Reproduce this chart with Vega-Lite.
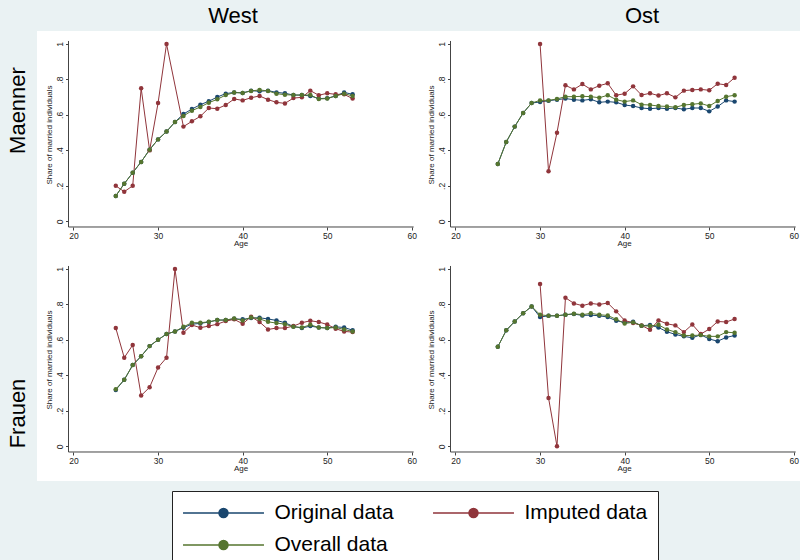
{
  "$schema": "https://vega.github.io/schema/vega-lite/v6.json",
  "background": "#EAF2F3",
  "padding": {"left": 6, "top": 5, "right": 0, "bottom": 0},
  "datasets": {
    "d": [
      {"r":"West","s":"Maenner","g":"Original data","a":25,"v":0.143},{"r":"West","s":"Maenner","g":"Original data","a":26,"v":0.212},{"r":"West","s":"Maenner","g":"Original data","a":27,"v":0.274},{"r":"West","s":"Maenner","g":"Original data","a":28,"v":0.335},{"r":"West","s":"Maenner","g":"Original data","a":29,"v":0.404},{"r":"West","s":"Maenner","g":"Original data","a":30,"v":0.462},{"r":"West","s":"Maenner","g":"Original data","a":31,"v":0.506},{"r":"West","s":"Maenner","g":"Original data","a":32,"v":0.560},{"r":"West","s":"Maenner","g":"Original data","a":33,"v":0.605},{"r":"West","s":"Maenner","g":"Original data","a":34,"v":0.633},{"r":"West","s":"Maenner","g":"Original data","a":35,"v":0.658},{"r":"West","s":"Maenner","g":"Original data","a":36,"v":0.677},{"r":"West","s":"Maenner","g":"Original data","a":37,"v":0.701},{"r":"West","s":"Maenner","g":"Original data","a":38,"v":0.720},{"r":"West","s":"Maenner","g":"Original data","a":39,"v":0.727},{"r":"West","s":"Maenner","g":"Original data","a":40,"v":0.724},{"r":"West","s":"Maenner","g":"Original data","a":41,"v":0.737},{"r":"West","s":"Maenner","g":"Original data","a":42,"v":0.733},{"r":"West","s":"Maenner","g":"Original data","a":43,"v":0.737},{"r":"West","s":"Maenner","g":"Original data","a":44,"v":0.727},{"r":"West","s":"Maenner","g":"Original data","a":45,"v":0.722},{"r":"West","s":"Maenner","g":"Original data","a":46,"v":0.712},{"r":"West","s":"Maenner","g":"Original data","a":47,"v":0.712},{"r":"West","s":"Maenner","g":"Original data","a":48,"v":0.707},{"r":"West","s":"Maenner","g":"Original data","a":49,"v":0.692},{"r":"West","s":"Maenner","g":"Original data","a":50,"v":0.694},{"r":"West","s":"Maenner","g":"Original data","a":51,"v":0.707},{"r":"West","s":"Maenner","g":"Original data","a":52,"v":0.727},{"r":"West","s":"Maenner","g":"Original data","a":53,"v":0.716},
      {"r":"Ost","s":"Maenner","g":"Original data","a":25,"v":0.323},{"r":"Ost","s":"Maenner","g":"Original data","a":26,"v":0.447},{"r":"Ost","s":"Maenner","g":"Original data","a":27,"v":0.534},{"r":"Ost","s":"Maenner","g":"Original data","a":28,"v":0.611},{"r":"Ost","s":"Maenner","g":"Original data","a":29,"v":0.667},{"r":"Ost","s":"Maenner","g":"Original data","a":30,"v":0.673},{"r":"Ost","s":"Maenner","g":"Original data","a":31,"v":0.680},{"r":"Ost","s":"Maenner","g":"Original data","a":32,"v":0.686},{"r":"Ost","s":"Maenner","g":"Original data","a":33,"v":0.692},{"r":"Ost","s":"Maenner","g":"Original data","a":34,"v":0.686},{"r":"Ost","s":"Maenner","g":"Original data","a":35,"v":0.682},{"r":"Ost","s":"Maenner","g":"Original data","a":36,"v":0.688},{"r":"Ost","s":"Maenner","g":"Original data","a":37,"v":0.671},{"r":"Ost","s":"Maenner","g":"Original data","a":38,"v":0.675},{"r":"Ost","s":"Maenner","g":"Original data","a":39,"v":0.671},{"r":"Ost","s":"Maenner","g":"Original data","a":40,"v":0.656},{"r":"Ost","s":"Maenner","g":"Original data","a":41,"v":0.650},{"r":"Ost","s":"Maenner","g":"Original data","a":42,"v":0.639},{"r":"Ost","s":"Maenner","g":"Original data","a":43,"v":0.635},{"r":"Ost","s":"Maenner","g":"Original data","a":44,"v":0.639},{"r":"Ost","s":"Maenner","g":"Original data","a":45,"v":0.635},{"r":"Ost","s":"Maenner","g":"Original data","a":46,"v":0.639},{"r":"Ost","s":"Maenner","g":"Original data","a":47,"v":0.632},{"r":"Ost","s":"Maenner","g":"Original data","a":48,"v":0.639},{"r":"Ost","s":"Maenner","g":"Original data","a":49,"v":0.639},{"r":"Ost","s":"Maenner","g":"Original data","a":50,"v":0.620},{"r":"Ost","s":"Maenner","g":"Original data","a":51,"v":0.647},{"r":"Ost","s":"Maenner","g":"Original data","a":52,"v":0.682},{"r":"Ost","s":"Maenner","g":"Original data","a":53,"v":0.675},
      {"r":"West","s":"Frauen","g":"Original data","a":25,"v":0.318},{"r":"West","s":"Frauen","g":"Original data","a":26,"v":0.375},{"r":"West","s":"Frauen","g":"Original data","a":27,"v":0.458},{"r":"West","s":"Frauen","g":"Original data","a":28,"v":0.508},{"r":"West","s":"Frauen","g":"Original data","a":29,"v":0.565},{"r":"West","s":"Frauen","g":"Original data","a":30,"v":0.601},{"r":"West","s":"Frauen","g":"Original data","a":31,"v":0.633},{"r":"West","s":"Frauen","g":"Original data","a":32,"v":0.648},{"r":"West","s":"Frauen","g":"Original data","a":33,"v":0.669},{"r":"West","s":"Frauen","g":"Original data","a":34,"v":0.689},{"r":"West","s":"Frauen","g":"Original data","a":35,"v":0.693},{"r":"West","s":"Frauen","g":"Original data","a":36,"v":0.701},{"r":"West","s":"Frauen","g":"Original data","a":37,"v":0.712},{"r":"West","s":"Frauen","g":"Original data","a":38,"v":0.712},{"r":"West","s":"Frauen","g":"Original data","a":39,"v":0.719},{"r":"West","s":"Frauen","g":"Original data","a":40,"v":0.716},{"r":"West","s":"Frauen","g":"Original data","a":41,"v":0.723},{"r":"West","s":"Frauen","g":"Original data","a":42,"v":0.725},{"r":"West","s":"Frauen","g":"Original data","a":43,"v":0.718},{"r":"West","s":"Frauen","g":"Original data","a":44,"v":0.710},{"r":"West","s":"Frauen","g":"Original data","a":45,"v":0.697},{"r":"West","s":"Frauen","g":"Original data","a":46,"v":0.676},{"r":"West","s":"Frauen","g":"Original data","a":47,"v":0.667},{"r":"West","s":"Frauen","g":"Original data","a":48,"v":0.678},{"r":"West","s":"Frauen","g":"Original data","a":49,"v":0.670},{"r":"West","s":"Frauen","g":"Original data","a":50,"v":0.667},{"r":"West","s":"Frauen","g":"Original data","a":51,"v":0.674},{"r":"West","s":"Frauen","g":"Original data","a":52,"v":0.670},{"r":"West","s":"Frauen","g":"Original data","a":53,"v":0.655},
      {"r":"Ost","s":"Frauen","g":"Original data","a":25,"v":0.561},{"r":"Ost","s":"Frauen","g":"Original data","a":26,"v":0.654},{"r":"Ost","s":"Frauen","g":"Original data","a":27,"v":0.704},{"r":"Ost","s":"Frauen","g":"Original data","a":28,"v":0.750},{"r":"Ost","s":"Frauen","g":"Original data","a":29,"v":0.789},{"r":"Ost","s":"Frauen","g":"Original data","a":30,"v":0.729},{"r":"Ost","s":"Frauen","g":"Original data","a":31,"v":0.736},{"r":"Ost","s":"Frauen","g":"Original data","a":32,"v":0.736},{"r":"Ost","s":"Frauen","g":"Original data","a":33,"v":0.742},{"r":"Ost","s":"Frauen","g":"Original data","a":34,"v":0.746},{"r":"Ost","s":"Frauen","g":"Original data","a":35,"v":0.738},{"r":"Ost","s":"Frauen","g":"Original data","a":36,"v":0.740},{"r":"Ost","s":"Frauen","g":"Original data","a":37,"v":0.736},{"r":"Ost","s":"Frauen","g":"Original data","a":38,"v":0.729},{"r":"Ost","s":"Frauen","g":"Original data","a":39,"v":0.708},{"r":"Ost","s":"Frauen","g":"Original data","a":40,"v":0.699},{"r":"Ost","s":"Frauen","g":"Original data","a":41,"v":0.702},{"r":"Ost","s":"Frauen","g":"Original data","a":42,"v":0.680},{"r":"Ost","s":"Frauen","g":"Original data","a":43,"v":0.684},{"r":"Ost","s":"Frauen","g":"Original data","a":44,"v":0.670},{"r":"Ost","s":"Frauen","g":"Original data","a":45,"v":0.646},{"r":"Ost","s":"Frauen","g":"Original data","a":46,"v":0.631},{"r":"Ost","s":"Frauen","g":"Original data","a":47,"v":0.620},{"r":"Ost","s":"Frauen","g":"Original data","a":48,"v":0.612},{"r":"Ost","s":"Frauen","g":"Original data","a":49,"v":0.629},{"r":"Ost","s":"Frauen","g":"Original data","a":50,"v":0.605},{"r":"Ost","s":"Frauen","g":"Original data","a":51,"v":0.593},{"r":"Ost","s":"Frauen","g":"Original data","a":52,"v":0.614},{"r":"Ost","s":"Frauen","g":"Original data","a":53,"v":0.625},
      {"r":"West","s":"Maenner","g":"Imputed data","a":25,"v":0.2},{"r":"West","s":"Maenner","g":"Imputed data","a":26,"v":0.167},{"r":"West","s":"Maenner","g":"Imputed data","a":27,"v":0.2},{"r":"West","s":"Maenner","g":"Imputed data","a":28,"v":0.75},{"r":"West","s":"Maenner","g":"Imputed data","a":29,"v":0.4},{"r":"West","s":"Maenner","g":"Imputed data","a":30,"v":0.667},{"r":"West","s":"Maenner","g":"Imputed data","a":31,"v":1.0},{"r":"West","s":"Maenner","g":"Imputed data","a":33,"v":0.534},{"r":"West","s":"Maenner","g":"Imputed data","a":34,"v":0.564},{"r":"West","s":"Maenner","g":"Imputed data","a":35,"v":0.592},{"r":"West","s":"Maenner","g":"Imputed data","a":36,"v":0.639},{"r":"West","s":"Maenner","g":"Imputed data","a":37,"v":0.635},{"r":"West","s":"Maenner","g":"Imputed data","a":38,"v":0.656},{"r":"West","s":"Maenner","g":"Imputed data","a":39,"v":0.690},{"r":"West","s":"Maenner","g":"Imputed data","a":40,"v":0.682},{"r":"West","s":"Maenner","g":"Imputed data","a":41,"v":0.697},{"r":"West","s":"Maenner","g":"Imputed data","a":42,"v":0.707},{"r":"West","s":"Maenner","g":"Imputed data","a":43,"v":0.686},{"r":"West","s":"Maenner","g":"Imputed data","a":44,"v":0.671},{"r":"West","s":"Maenner","g":"Imputed data","a":45,"v":0.665},{"r":"West","s":"Maenner","g":"Imputed data","a":46,"v":0.695},{"r":"West","s":"Maenner","g":"Imputed data","a":47,"v":0.699},{"r":"West","s":"Maenner","g":"Imputed data","a":48,"v":0.737},{"r":"West","s":"Maenner","g":"Imputed data","a":49,"v":0.711},{"r":"West","s":"Maenner","g":"Imputed data","a":50,"v":0.722},{"r":"West","s":"Maenner","g":"Imputed data","a":51,"v":0.716},{"r":"West","s":"Maenner","g":"Imputed data","a":52,"v":0.716},{"r":"West","s":"Maenner","g":"Imputed data","a":53,"v":0.692},
      {"r":"Ost","s":"Maenner","g":"Imputed data","a":30,"v":1.0},{"r":"Ost","s":"Maenner","g":"Imputed data","a":31,"v":0.282},{"r":"Ost","s":"Maenner","g":"Imputed data","a":32,"v":0.5},{"r":"Ost","s":"Maenner","g":"Imputed data","a":33,"v":0.767},{"r":"Ost","s":"Maenner","g":"Imputed data","a":34,"v":0.744},{"r":"Ost","s":"Maenner","g":"Imputed data","a":35,"v":0.774},{"r":"Ost","s":"Maenner","g":"Imputed data","a":36,"v":0.744},{"r":"Ost","s":"Maenner","g":"Imputed data","a":37,"v":0.765},{"r":"Ost","s":"Maenner","g":"Imputed data","a":38,"v":0.778},{"r":"Ost","s":"Maenner","g":"Imputed data","a":39,"v":0.711},{"r":"Ost","s":"Maenner","g":"Imputed data","a":40,"v":0.720},{"r":"Ost","s":"Maenner","g":"Imputed data","a":41,"v":0.761},{"r":"Ost","s":"Maenner","g":"Imputed data","a":42,"v":0.712},{"r":"Ost","s":"Maenner","g":"Imputed data","a":43,"v":0.722},{"r":"Ost","s":"Maenner","g":"Imputed data","a":44,"v":0.709},{"r":"Ost","s":"Maenner","g":"Imputed data","a":45,"v":0.722},{"r":"Ost","s":"Maenner","g":"Imputed data","a":46,"v":0.699},{"r":"Ost","s":"Maenner","g":"Imputed data","a":47,"v":0.737},{"r":"Ost","s":"Maenner","g":"Imputed data","a":48,"v":0.741},{"r":"Ost","s":"Maenner","g":"Imputed data","a":49,"v":0.744},{"r":"Ost","s":"Maenner","g":"Imputed data","a":50,"v":0.739},{"r":"Ost","s":"Maenner","g":"Imputed data","a":51,"v":0.776},{"r":"Ost","s":"Maenner","g":"Imputed data","a":52,"v":0.769},{"r":"Ost","s":"Maenner","g":"Imputed data","a":53,"v":0.810},
      {"r":"West","s":"Frauen","g":"Imputed data","a":25,"v":0.667},{"r":"West","s":"Frauen","g":"Imputed data","a":26,"v":0.5},{"r":"West","s":"Frauen","g":"Imputed data","a":27,"v":0.571},{"r":"West","s":"Frauen","g":"Imputed data","a":28,"v":0.286},{"r":"West","s":"Frauen","g":"Imputed data","a":29,"v":0.333},{"r":"West","s":"Frauen","g":"Imputed data","a":30,"v":0.444},{"r":"West","s":"Frauen","g":"Imputed data","a":31,"v":0.5},{"r":"West","s":"Frauen","g":"Imputed data","a":32,"v":1.0},{"r":"West","s":"Frauen","g":"Imputed data","a":33,"v":0.641},{"r":"West","s":"Frauen","g":"Imputed data","a":34,"v":0.684},{"r":"West","s":"Frauen","g":"Imputed data","a":35,"v":0.669},{"r":"West","s":"Frauen","g":"Imputed data","a":36,"v":0.678},{"r":"West","s":"Frauen","g":"Imputed data","a":37,"v":0.689},{"r":"West","s":"Frauen","g":"Imputed data","a":38,"v":0.706},{"r":"West","s":"Frauen","g":"Imputed data","a":39,"v":0.716},{"r":"West","s":"Frauen","g":"Imputed data","a":40,"v":0.691},{"r":"West","s":"Frauen","g":"Imputed data","a":41,"v":0.731},{"r":"West","s":"Frauen","g":"Imputed data","a":42,"v":0.701},{"r":"West","s":"Frauen","g":"Imputed data","a":43,"v":0.659},{"r":"West","s":"Frauen","g":"Imputed data","a":44,"v":0.667},{"r":"West","s":"Frauen","g":"Imputed data","a":45,"v":0.667},{"r":"West","s":"Frauen","g":"Imputed data","a":46,"v":0.678},{"r":"West","s":"Frauen","g":"Imputed data","a":47,"v":0.697},{"r":"West","s":"Frauen","g":"Imputed data","a":48,"v":0.708},{"r":"West","s":"Frauen","g":"Imputed data","a":49,"v":0.701},{"r":"West","s":"Frauen","g":"Imputed data","a":50,"v":0.687},{"r":"West","s":"Frauen","g":"Imputed data","a":51,"v":0.663},{"r":"West","s":"Frauen","g":"Imputed data","a":52,"v":0.648},{"r":"West","s":"Frauen","g":"Imputed data","a":53,"v":0.644},
      {"r":"Ost","s":"Frauen","g":"Imputed data","a":30,"v":0.915},{"r":"Ost","s":"Frauen","g":"Imputed data","a":31,"v":0.273},{"r":"Ost","s":"Frauen","g":"Imputed data","a":32,"v":0.0},{"r":"Ost","s":"Frauen","g":"Imputed data","a":33,"v":0.838},{"r":"Ost","s":"Frauen","g":"Imputed data","a":34,"v":0.806},{"r":"Ost","s":"Frauen","g":"Imputed data","a":35,"v":0.793},{"r":"Ost","s":"Frauen","g":"Imputed data","a":36,"v":0.806},{"r":"Ost","s":"Frauen","g":"Imputed data","a":37,"v":0.800},{"r":"Ost","s":"Frauen","g":"Imputed data","a":38,"v":0.808},{"r":"Ost","s":"Frauen","g":"Imputed data","a":39,"v":0.761},{"r":"Ost","s":"Frauen","g":"Imputed data","a":40,"v":0.710},{"r":"Ost","s":"Frauen","g":"Imputed data","a":41,"v":0.695},{"r":"Ost","s":"Frauen","g":"Imputed data","a":42,"v":0.682},{"r":"Ost","s":"Frauen","g":"Imputed data","a":43,"v":0.657},{"r":"Ost","s":"Frauen","g":"Imputed data","a":44,"v":0.710},{"r":"Ost","s":"Frauen","g":"Imputed data","a":45,"v":0.691},{"r":"Ost","s":"Frauen","g":"Imputed data","a":46,"v":0.682},{"r":"Ost","s":"Frauen","g":"Imputed data","a":47,"v":0.644},{"r":"Ost","s":"Frauen","g":"Imputed data","a":48,"v":0.687},{"r":"Ost","s":"Frauen","g":"Imputed data","a":49,"v":0.633},{"r":"Ost","s":"Frauen","g":"Imputed data","a":50,"v":0.661},{"r":"Ost","s":"Frauen","g":"Imputed data","a":51,"v":0.704},{"r":"Ost","s":"Frauen","g":"Imputed data","a":52,"v":0.701},{"r":"Ost","s":"Frauen","g":"Imputed data","a":53,"v":0.718},
      {"r":"West","s":"Maenner","g":"Overall data","a":25,"v":0.143},{"r":"West","s":"Maenner","g":"Overall data","a":26,"v":0.212},{"r":"West","s":"Maenner","g":"Overall data","a":27,"v":0.274},{"r":"West","s":"Maenner","g":"Overall data","a":28,"v":0.335},{"r":"West","s":"Maenner","g":"Overall data","a":29,"v":0.404},{"r":"West","s":"Maenner","g":"Overall data","a":30,"v":0.462},{"r":"West","s":"Maenner","g":"Overall data","a":31,"v":0.506},{"r":"West","s":"Maenner","g":"Overall data","a":32,"v":0.560},{"r":"West","s":"Maenner","g":"Overall data","a":33,"v":0.594},{"r":"West","s":"Maenner","g":"Overall data","a":34,"v":0.624},{"r":"West","s":"Maenner","g":"Overall data","a":35,"v":0.645},{"r":"West","s":"Maenner","g":"Overall data","a":36,"v":0.669},{"r":"West","s":"Maenner","g":"Overall data","a":37,"v":0.688},{"r":"West","s":"Maenner","g":"Overall data","a":38,"v":0.712},{"r":"West","s":"Maenner","g":"Overall data","a":39,"v":0.726},{"r":"West","s":"Maenner","g":"Overall data","a":40,"v":0.724},{"r":"West","s":"Maenner","g":"Overall data","a":41,"v":0.735},{"r":"West","s":"Maenner","g":"Overall data","a":42,"v":0.741},{"r":"West","s":"Maenner","g":"Overall data","a":43,"v":0.735},{"r":"West","s":"Maenner","g":"Overall data","a":44,"v":0.720},{"r":"West","s":"Maenner","g":"Overall data","a":45,"v":0.714},{"r":"West","s":"Maenner","g":"Overall data","a":46,"v":0.712},{"r":"West","s":"Maenner","g":"Overall data","a":47,"v":0.712},{"r":"West","s":"Maenner","g":"Overall data","a":48,"v":0.712},{"r":"West","s":"Maenner","g":"Overall data","a":49,"v":0.690},{"r":"West","s":"Maenner","g":"Overall data","a":50,"v":0.692},{"r":"West","s":"Maenner","g":"Overall data","a":51,"v":0.707},{"r":"West","s":"Maenner","g":"Overall data","a":52,"v":0.720},{"r":"West","s":"Maenner","g":"Overall data","a":53,"v":0.707},
      {"r":"Ost","s":"Maenner","g":"Overall data","a":25,"v":0.323},{"r":"Ost","s":"Maenner","g":"Overall data","a":26,"v":0.447},{"r":"Ost","s":"Maenner","g":"Overall data","a":27,"v":0.534},{"r":"Ost","s":"Maenner","g":"Overall data","a":28,"v":0.611},{"r":"Ost","s":"Maenner","g":"Overall data","a":29,"v":0.667},{"r":"Ost","s":"Maenner","g":"Overall data","a":30,"v":0.682},{"r":"Ost","s":"Maenner","g":"Overall data","a":31,"v":0.682},{"r":"Ost","s":"Maenner","g":"Overall data","a":32,"v":0.690},{"r":"Ost","s":"Maenner","g":"Overall data","a":33,"v":0.703},{"r":"Ost","s":"Maenner","g":"Overall data","a":34,"v":0.703},{"r":"Ost","s":"Maenner","g":"Overall data","a":35,"v":0.705},{"r":"Ost","s":"Maenner","g":"Overall data","a":36,"v":0.703},{"r":"Ost","s":"Maenner","g":"Overall data","a":37,"v":0.697},{"r":"Ost","s":"Maenner","g":"Overall data","a":38,"v":0.711},{"r":"Ost","s":"Maenner","g":"Overall data","a":39,"v":0.686},{"r":"Ost","s":"Maenner","g":"Overall data","a":40,"v":0.675},{"r":"Ost","s":"Maenner","g":"Overall data","a":41,"v":0.682},{"r":"Ost","s":"Maenner","g":"Overall data","a":42,"v":0.658},{"r":"Ost","s":"Maenner","g":"Overall data","a":43,"v":0.656},{"r":"Ost","s":"Maenner","g":"Overall data","a":44,"v":0.650},{"r":"Ost","s":"Maenner","g":"Overall data","a":45,"v":0.648},{"r":"Ost","s":"Maenner","g":"Overall data","a":46,"v":0.643},{"r":"Ost","s":"Maenner","g":"Overall data","a":47,"v":0.656},{"r":"Ost","s":"Maenner","g":"Overall data","a":48,"v":0.660},{"r":"Ost","s":"Maenner","g":"Overall data","a":49,"v":0.665},{"r":"Ost","s":"Maenner","g":"Overall data","a":50,"v":0.650},{"r":"Ost","s":"Maenner","g":"Overall data","a":51,"v":0.679},{"r":"Ost","s":"Maenner","g":"Overall data","a":52,"v":0.703},{"r":"Ost","s":"Maenner","g":"Overall data","a":53,"v":0.711},
      {"r":"West","s":"Frauen","g":"Overall data","a":25,"v":0.322},{"r":"West","s":"Frauen","g":"Overall data","a":26,"v":0.375},{"r":"West","s":"Frauen","g":"Overall data","a":27,"v":0.458},{"r":"West","s":"Frauen","g":"Overall data","a":28,"v":0.508},{"r":"West","s":"Frauen","g":"Overall data","a":29,"v":0.565},{"r":"West","s":"Frauen","g":"Overall data","a":30,"v":0.601},{"r":"West","s":"Frauen","g":"Overall data","a":31,"v":0.633},{"r":"West","s":"Frauen","g":"Overall data","a":32,"v":0.648},{"r":"West","s":"Frauen","g":"Overall data","a":33,"v":0.674},{"r":"West","s":"Frauen","g":"Overall data","a":34,"v":0.697},{"r":"West","s":"Frauen","g":"Overall data","a":35,"v":0.697},{"r":"West","s":"Frauen","g":"Overall data","a":36,"v":0.702},{"r":"West","s":"Frauen","g":"Overall data","a":37,"v":0.712},{"r":"West","s":"Frauen","g":"Overall data","a":38,"v":0.712},{"r":"West","s":"Frauen","g":"Overall data","a":39,"v":0.721},{"r":"West","s":"Frauen","g":"Overall data","a":40,"v":0.710},{"r":"West","s":"Frauen","g":"Overall data","a":41,"v":0.727},{"r":"West","s":"Frauen","g":"Overall data","a":42,"v":0.719},{"r":"West","s":"Frauen","g":"Overall data","a":43,"v":0.702},{"r":"West","s":"Frauen","g":"Overall data","a":44,"v":0.695},{"r":"West","s":"Frauen","g":"Overall data","a":45,"v":0.689},{"r":"West","s":"Frauen","g":"Overall data","a":46,"v":0.674},{"r":"West","s":"Frauen","g":"Overall data","a":47,"v":0.670},{"r":"West","s":"Frauen","g":"Overall data","a":48,"v":0.685},{"r":"West","s":"Frauen","g":"Overall data","a":49,"v":0.670},{"r":"West","s":"Frauen","g":"Overall data","a":50,"v":0.667},{"r":"West","s":"Frauen","g":"Overall data","a":51,"v":0.670},{"r":"West","s":"Frauen","g":"Overall data","a":52,"v":0.659},{"r":"West","s":"Frauen","g":"Overall data","a":53,"v":0.648},
      {"r":"Ost","s":"Frauen","g":"Overall data","a":25,"v":0.561},{"r":"Ost","s":"Frauen","g":"Overall data","a":26,"v":0.654},{"r":"Ost","s":"Frauen","g":"Overall data","a":27,"v":0.704},{"r":"Ost","s":"Frauen","g":"Overall data","a":28,"v":0.750},{"r":"Ost","s":"Frauen","g":"Overall data","a":29,"v":0.789},{"r":"Ost","s":"Frauen","g":"Overall data","a":30,"v":0.742},{"r":"Ost","s":"Frauen","g":"Overall data","a":31,"v":0.736},{"r":"Ost","s":"Frauen","g":"Overall data","a":32,"v":0.736},{"r":"Ost","s":"Frauen","g":"Overall data","a":33,"v":0.742},{"r":"Ost","s":"Frauen","g":"Overall data","a":34,"v":0.748},{"r":"Ost","s":"Frauen","g":"Overall data","a":35,"v":0.742},{"r":"Ost","s":"Frauen","g":"Overall data","a":36,"v":0.750},{"r":"Ost","s":"Frauen","g":"Overall data","a":37,"v":0.742},{"r":"Ost","s":"Frauen","g":"Overall data","a":38,"v":0.738},{"r":"Ost","s":"Frauen","g":"Overall data","a":39,"v":0.716},{"r":"Ost","s":"Frauen","g":"Overall data","a":40,"v":0.693},{"r":"Ost","s":"Frauen","g":"Overall data","a":41,"v":0.699},{"r":"Ost","s":"Frauen","g":"Overall data","a":42,"v":0.680},{"r":"Ost","s":"Frauen","g":"Overall data","a":43,"v":0.678},{"r":"Ost","s":"Frauen","g":"Overall data","a":44,"v":0.685},{"r":"Ost","s":"Frauen","g":"Overall data","a":45,"v":0.659},{"r":"Ost","s":"Frauen","g":"Overall data","a":46,"v":0.644},{"r":"Ost","s":"Frauen","g":"Overall data","a":47,"v":0.625},{"r":"Ost","s":"Frauen","g":"Overall data","a":48,"v":0.625},{"r":"Ost","s":"Frauen","g":"Overall data","a":49,"v":0.627},{"r":"Ost","s":"Frauen","g":"Overall data","a":50,"v":0.620},{"r":"Ost","s":"Frauen","g":"Overall data","a":51,"v":0.620},{"r":"Ost","s":"Frauen","g":"Overall data","a":52,"v":0.644},{"r":"Ost","s":"Frauen","g":"Overall data","a":53,"v":0.640}
    ]
  },
  "data": {"name": "d"},
  "spacing": 0,
  "vconcat": [
    {
      "spacing": 0,
      "title": {"text": "Maenner", "orient": "left", "fontSize": 22, "anchor": "middle", "offset": -10, "baseline": "alphabetic", "dx": 20},
      "hconcat": [
        {
          "width": 382, "height": 225,
          "title": {"text": "West", "fontSize": 22, "anchor": "middle", "dx": 5, "offset": -14, "baseline": "alphabetic"},
          "transform": [{"filter": "datum.r=='West' && datum.s=='Maenner'"}],
          "layer": [
            {"transform": [{"filter": "datum.a==25 && datum.g=='Overall data'"}], "mark": {"type": "rule", "color": "#444", "strokeWidth": 1}, "encoding": {"x": {"datum": 19.41, "type": "quantitative"}, "y": {"datum": -0.0321, "type": "quantitative"}, "y2": {"datum": 1.017}}},
            {"transform": [{"filter": "datum.a==25 && datum.g=='Overall data'"}], "mark": {"type": "rule", "color": "#444", "strokeWidth": 1}, "encoding": {"x": {"datum": 19.41, "type": "quantitative"}, "x2": {"datum": 60.22}, "y": {"datum": -0.0321, "type": "quantitative"}}},
            {"mark": {"type": "line", "strokeWidth": 1},
             "encoding": {
               "x": {"field": "a", "type": "quantitative", "scale": {"domain": [15.685, 60.85], "nice": false, "zero": false}, "axis": {"title": "Age", "values": [20,30,40,50,60], "offset": -29, "titleX": 203.5}},
               "y": {"field": "v", "type": "quantitative", "scale": {"domain": [-0.1957, 1.0733], "nice": false, "zero": false}, "axis": {"title": "Share of married individuals", "values": [0,0.2,0.4,0.6,0.8,1], "offset": -31.5, "titleY": 103.5}},
               "color": {"field": "g", "type": "nominal", "scale": {"domain": ["Original data", "Imputed data", "Overall data"]}}}},
            {"mark": {"type": "point", "filled": true, "size": 20, "opacity": 1},
             "encoding": {"x": {"field": "a", "type": "quantitative"}, "y": {"field": "v", "type": "quantitative"}, "color": {"field": "g", "type": "nominal", "scale": {"domain": ["Original data", "Imputed data", "Overall data"]}}}}
          ]
        },
        {
          "width": 382, "height": 225,
          "title": {"text": "Ost", "fontSize": 22, "anchor": "middle", "dx": 32, "offset": -14, "baseline": "alphabetic"},
          "transform": [{"filter": "datum.r=='Ost' && datum.s=='Maenner'"}],
          "layer": [
            {"transform": [{"filter": "datum.a==25 && datum.g=='Overall data'"}], "mark": {"type": "rule", "color": "#444", "strokeWidth": 1}, "encoding": {"x": {"datum": 19.41, "type": "quantitative"}, "y": {"datum": -0.0321, "type": "quantitative"}, "y2": {"datum": 1.017}}},
            {"transform": [{"filter": "datum.a==25 && datum.g=='Overall data'"}], "mark": {"type": "rule", "color": "#444", "strokeWidth": 1}, "encoding": {"x": {"datum": 19.41, "type": "quantitative"}, "x2": {"datum": 60.22}, "y": {"datum": -0.0321, "type": "quantitative"}}},
            {"mark": {"type": "line", "strokeWidth": 1},
             "encoding": {
               "x": {"field": "a", "type": "quantitative", "scale": {"domain": [15.685, 60.85], "nice": false, "zero": false}, "axis": {"title": "Age", "values": [20,30,40,50,60], "offset": -29, "titleX": 205}},
               "y": {"field": "v", "type": "quantitative", "scale": {"domain": [-0.1957, 1.0733], "nice": false, "zero": false}, "axis": {"title": "Share of married individuals", "values": [0,0.2,0.4,0.6,0.8,1], "offset": -31.5, "titleY": 103.5}},
               "color": {"field": "g", "type": "nominal", "scale": {"domain": ["Original data", "Imputed data", "Overall data"]}}}},
            {"mark": {"type": "point", "filled": true, "size": 20, "opacity": 1},
             "encoding": {"x": {"field": "a", "type": "quantitative"}, "y": {"field": "v", "type": "quantitative"}, "color": {"field": "g", "type": "nominal", "scale": {"domain": ["Original data", "Imputed data", "Overall data"]}}}}
          ]
        }
      ]
    },
    {
      "spacing": 0,
      "title": {"text": "Frauen", "orient": "left", "fontSize": 22, "anchor": "middle", "offset": -10, "baseline": "alphabetic", "dx": -45},
      "hconcat": [
        {
          "width": 382, "height": 225,
          "transform": [{"filter": "datum.r=='West' && datum.s=='Frauen'"}],
          "layer": [
            {"transform": [{"filter": "datum.a==25 && datum.g=='Overall data'"}], "mark": {"type": "rule", "color": "#444", "strokeWidth": 1}, "encoding": {"x": {"datum": 19.41, "type": "quantitative"}, "y": {"datum": -0.0321, "type": "quantitative"}, "y2": {"datum": 1.017}}},
            {"transform": [{"filter": "datum.a==25 && datum.g=='Overall data'"}], "mark": {"type": "rule", "color": "#444", "strokeWidth": 1}, "encoding": {"x": {"datum": 19.41, "type": "quantitative"}, "x2": {"datum": 60.22}, "y": {"datum": -0.0321, "type": "quantitative"}}},
            {"mark": {"type": "line", "strokeWidth": 1},
             "encoding": {
               "x": {"field": "a", "type": "quantitative", "scale": {"domain": [15.685, 60.85], "nice": false, "zero": false}, "axis": {"title": "Age", "values": [20,30,40,50,60], "offset": -29, "titleX": 203.5}},
               "y": {"field": "v", "type": "quantitative", "scale": {"domain": [-0.1957, 1.0733], "nice": false, "zero": false}, "axis": {"title": "Share of married individuals", "values": [0,0.2,0.4,0.6,0.8,1], "offset": -31.5, "titleY": 103.5}},
               "color": {"field": "g", "type": "nominal", "scale": {"domain": ["Original data", "Imputed data", "Overall data"]}}}},
            {"mark": {"type": "point", "filled": true, "size": 20, "opacity": 1},
             "encoding": {"x": {"field": "a", "type": "quantitative"}, "y": {"field": "v", "type": "quantitative"}, "color": {"field": "g", "type": "nominal", "scale": {"domain": ["Original data", "Imputed data", "Overall data"]}}}}
          ]
        },
        {
          "width": 382, "height": 225,
          "transform": [{"filter": "datum.r=='Ost' && datum.s=='Frauen'"}],
          "layer": [
            {"transform": [{"filter": "datum.a==25 && datum.g=='Overall data'"}], "mark": {"type": "rule", "color": "#444", "strokeWidth": 1}, "encoding": {"x": {"datum": 19.41, "type": "quantitative"}, "y": {"datum": -0.0321, "type": "quantitative"}, "y2": {"datum": 1.017}}},
            {"transform": [{"filter": "datum.a==25 && datum.g=='Overall data'"}], "mark": {"type": "rule", "color": "#444", "strokeWidth": 1}, "encoding": {"x": {"datum": 19.41, "type": "quantitative"}, "x2": {"datum": 60.22}, "y": {"datum": -0.0321, "type": "quantitative"}}},
            {"mark": {"type": "line", "strokeWidth": 1},
             "encoding": {
               "x": {"field": "a", "type": "quantitative", "scale": {"domain": [15.685, 60.85], "nice": false, "zero": false}, "axis": {"title": "Age", "values": [20,30,40,50,60], "offset": -29, "titleX": 205}},
               "y": {"field": "v", "type": "quantitative", "scale": {"domain": [-0.1957, 1.0733], "nice": false, "zero": false}, "axis": {"title": "Share of married individuals", "values": [0,0.2,0.4,0.6,0.8,1], "offset": -31.5, "titleY": 103.5}},
               "color": {"field": "g", "type": "nominal", "scale": {"domain": ["Original data", "Imputed data", "Overall data"]}}}},
            {"mark": {"type": "point", "filled": true, "size": 20, "opacity": 1},
             "encoding": {"x": {"field": "a", "type": "quantitative"}, "y": {"field": "v", "type": "quantitative"}, "color": {"field": "g", "type": "nominal", "scale": {"domain": ["Original data", "Imputed data", "Overall data"]}}}}
          ]
        }
      ]
    }
  ],
  "resolve": {"scale": {"color": "shared"}},
  "config": {
    "view": {"fill": "white", "stroke": null},
    "font": "Liberation Sans",
    "title": {"font": "Liberation Sans", "fontWeight": "normal", "color": "black"},
    "axis": {"labelFont": "Liberation Sans", "titleFont": "Liberation Sans", "labelColor": "#222", "titleColor": "#222", "tickColor": "#444", "tickSize": 3, "grid": false, "domain": false, "labelFontSize": 8.5, "titleFontSize": 8, "titleFontWeight": "normal", "labelPadding": 1},
    "axisX": {"labelFlush": false, "titlePadding": 0, "labelOverlap": false},
    "axisY": {"labelAngle": 270, "labelAlign": "center", "labelBaseline": "bottom", "titlePadding": 2, "labelExpr": "datum.value == 0 ? '0' : datum.value == 1 ? '1' : '.' + format(datum.value * 10, 'd')"},
    "range": {"category": ["#1a476f", "#90353b", "#55752f"]},
    "legend": {
      "orient": "none", "legendX": 135, "legendY": 460, "direction": "horizontal",
      "title": null, "columns": 2, "columnPadding": 36, "rowPadding": 10,
      "padding": 10, "fillColor": "white", "strokeColor": "#222",
      "symbolType": "M-3.68,0H3.68M-0.41,0A0.41,0.41 0 1 1 0.41,0A0.41,0.41 0 1 1 -0.41,0Z",
      "symbolSize": 484, "symbolStrokeWidth": 1.5, "symbolOffset": 29.5,
      "labelFont": "Liberation Sans", "labelFontSize": 21, "labelColor": "black", "labelOffset": 39, "labelLimit": 300
    }
  }
}
